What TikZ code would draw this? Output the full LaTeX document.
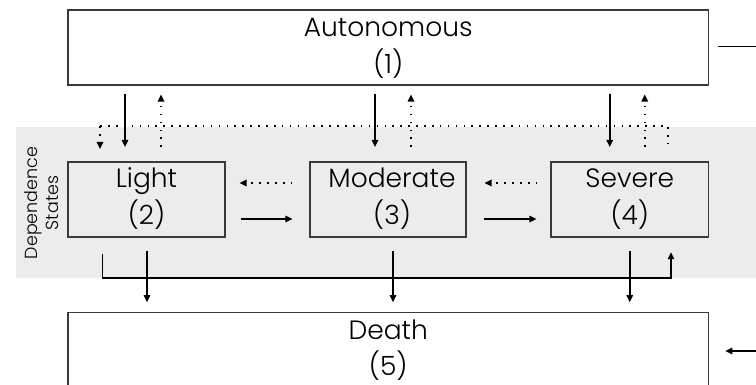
\documentclass[tikz,border=0pt]{standalone}
\usepackage{fontspec}
\IfFontExistsTF{Poppins Light}{\setmainfont{Poppins Light}}{\setmainfont{Poppins}}
\usetikzlibrary{arrows.meta,calc}
\definecolor{band}{HTML}{EBECEB}
\definecolor{edge}{HTML}{3A3A3A}
\begin{document}
\begin{tikzpicture}[x=1pt,y=1pt,
  box/.style={draw=edge,line width=1.1pt,inner sep=0pt},
  lbl/.style={font=\fontsize{26.5}{30}\selectfont,anchor=base,inner sep=0pt},
  arr/.style={line width=1.5pt,-{Triangle[length=7pt,width=6.5pt]}},
  dotarr/.style={line width=1.6pt,dash pattern=on 1.6pt off 6.3pt,-{Triangle[length=7pt,width=6.5pt]}},
  dotline/.style={line width=1.6pt,dash pattern=on 1.6pt off 6.3pt},
  solid/.style={line width=1.5pt}]
\useasboundingbox (0,0) rectangle (756,385);
\clip (0,0) rectangle (756,385);
% band
\fill[band] (16,107.3) rectangle (770,258);
% boxes
\node[box,fill=white,minimum width=640.5pt,minimum height=75pt] (auto) at (388.25,337.5) {};
\node[box,minimum width=157pt,minimum height=75pt] (light) at (146.5,185.5) {};
\node[box,minimum width=156pt,minimum height=75pt] (mod) at (388,185.5) {};
\node[box,minimum width=157.5pt,minimum height=75pt] (sev) at (629.75,185.5) {};
\node[box,fill=white,minimum width=640.5pt,minimum height=85pt] (death) at (388.25,29.8) {};
% texts
\node[lbl] (autoA) at (388.25,348) {Autonomous};
\node[lbl] (autoB) at (388.25,311) {(1)};
\node[lbl] (lightA) at (146.5,197) {Light};
\node[lbl] (lightB) at (146.5,160) {(2)};
\node[lbl] (modA) at (392,197) {Moderate};
\node[lbl] (modB) at (392,160) {(3)};
\node[lbl] (sevA) at (629.75,197) {Severe};
\node[lbl] (sevB) at (629.75,160) {(4)};
\node[lbl] (deathA) at (388.25,45) {Death};
\node[lbl] (deathB) at (388.25,9.5) {(5)};
\node[font=\fontsize{17.5}{21}\selectfont,align=center,rotate=90,inner sep=0pt] (dep) at (41.5,182) {Dependence\\States};
% top connectors
\draw[arr] ($(auto.south -| light.north)+(-21.5,-8)$) -- ($(light.north)+(-21.5,14.5)$);
\draw[dotarr] ($(light.north)+(14.5,14.5)$) -- ($(auto.south -| light.north)+(14.5,-9)$);
\draw[arr] ($(auto.south -| mod.north)+(-13,-8)$) -- ($(mod.north)+(-13,14.5)$);
\draw[dotarr] ($(mod.north)+(23,14.5)$) -- ($(auto.south -| mod.north)+(23,-9)$);
\draw[arr] ($(auto.south -| sev.north)+(-20,-8)$) -- ($(sev.north)+(-20,14.5)$);
\draw[dotarr] ($(sev.north)+(15,14.5)$) -- ($(auto.south -| sev.north)+(15,-9)$);
% severe -> light dotted return
\coordinate (sl1) at ($(sev.north)+(38.25,17)$);
\coordinate (sl2) at ($(sev.north)+(38.25,35.3)$);
\coordinate (sl3) at ($(light.north)+(-46.5,35.3)$);
\draw[dotline] (sl1) -- (sl2) -- (sl3);
\draw[dotarr] (sl3) -- ($(light.north)+(-46.5,12.5)$);
% horizontal
\draw[arr] ($(light.east)+(15,-19.5)$) -- ($(mod.west)+(-17,-19.5)$);
\draw[arr] ($(mod.east)+(17,-19.5)$) -- ($(sev.west)+(-14,-19.5)$);
\draw[dotarr] ($(mod.west)+(-17,16.5)$) -- ($(light.east)+(14,16.5)$);
\draw[dotarr] ($(sev.west)+(-13,16.5)$) -- ($(mod.east)+(18,16.5)$);
% bottom connectors
\draw[arr] ($(light.south)+(0.5,-13)$) -- ($(death.north -| light.south)+(0.5,10)$);
\draw[arr] ($(mod.south)+(5,-13)$) -- ($(death.north -| mod.south)+(5,10)$);
\draw[arr] ($(sev.south)+(0,-13)$) -- ($(death.north -| sev.south)+(0,10)$);
\coordinate (lb1) at ($(light.south)+(-43.8,-16)$);
\coordinate (lb2) at ($(light.south)+(-43.8,-40.7)$);
\coordinate (lb3) at ($(sev.south)+(41.25,-40.7)$);
\draw[arr] (lb1) -- (lb2) -- (lb3) -- ($(sev.south)+(41.25,-14.7)$);
% side connectors
\coordinate (outR) at (770,338.3);
\coordinate (inR) at (770,34);
\draw[solid] ($(auto.east)+(8.5,0.8)$) -- (outR);
\draw[arr] (inR) -- ($(death.east |- inR)+(16.2,0)$);
\end{tikzpicture}
\end{document}
